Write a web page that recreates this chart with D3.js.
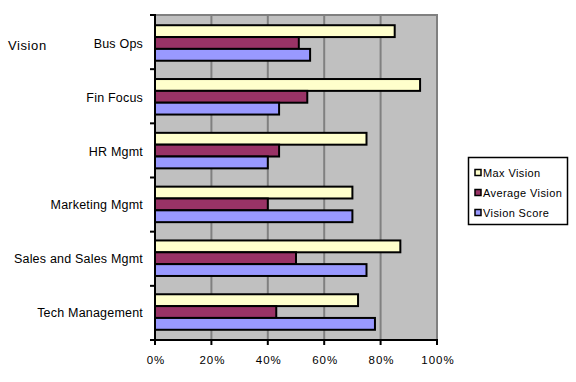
<!DOCTYPE html>
<html><head><meta charset="utf-8">
<script src="https://cdn.jsdelivr.net/npm/d3@7"></script>
<style>body{margin:0;background:#fff}svg{display:block}</style>
</head><body>
<svg id="c" width="576" height="382"></svg>
<script>
const categories = ["Bus Ops","Fin Focus","HR Mgmt","Marketing Mgmt","Sales and Sales Mgmt","Tech Management"];
const seriesNames = ["Max Vision","Average Vision","Vision Score"];
const maxVision = [0.85,0.94,0.75,0.70,0.87,0.72];
const avgVision = [0.51,0.54,0.44,0.40,0.50,0.43];
const visionScore = [0.55,0.44,0.40,0.70,0.75,0.78];
const colors = ["#FFFFCC","#993366","#9999FF"];
const xTicks = [0,0.2,0.4,0.6,0.8,1.0];

const series = [maxVision, avgVision, visionScore];
const svg = d3.select("#c");
const L=155, R=437, T=15, B=340;
const font = "Liberation Sans, Arial, sans-serif";

const x = d3.scaleLinear().domain([0,1]).range([L,R]);
const y = d3.scaleBand().domain(categories).range([T,B]).paddingInner(0.34).paddingOuter(0.19);
const ys = d3.scaleBand().domain(seriesNames).range([0,y.bandwidth()]);

svg.append("rect").attr("x",L).attr("y",T).attr("width",R-L).attr("height",B-T).attr("fill","#C0C0C0");
svg.append("g").selectAll("line").data(xTicks.slice(1)).join("line")
  .attr("x1",d=>x(d)).attr("x2",d=>x(d)).attr("y1",T).attr("y2",B)
  .attr("stroke","#808080").attr("stroke-width",2);
svg.append("line").attr("x1",L).attr("x2",R+1).attr("y1",T).attr("y2",T).attr("stroke","#808080").attr("stroke-width",2);

seriesNames.forEach((s,si)=>{
  svg.append("g").selectAll("rect").data(series[si]).join("rect")
    .attr("x",x(0)).attr("y",(d,i)=>y(categories[i])+ys(s))
    .attr("width",d=>x(d)-x(0)).attr("height",ys.bandwidth())
    .attr("fill",colors[si]).attr("stroke","#000").attr("stroke-width",2);
});

// y axis
const yAx = svg.append("g");
yAx.append("line").attr("x1",L).attr("x2",L).attr("y1",T-1).attr("y2",B).attr("stroke","#000").attr("stroke-width",2);
const yTickPos = categories.map((c,i)=>T+i*(B-T)/categories.length).concat([B]);
yAx.selectAll(".t").data(yTickPos).join("line").attr("class","t")
  .attr("x1",L-5).attr("x2",L).attr("y1",d=>d).attr("y2",d=>d).attr("stroke","#000").attr("stroke-width",2);
yAx.selectAll("text").data(categories).join("text")
  .attr("x",143).attr("y",d=>y(d)+y.bandwidth()/2+5).attr("text-anchor","end")
  .attr("font-family",font).attr("font-size",12.5).attr("letter-spacing","0.2").attr("fill","#000").text(d=>d);

// x axis
const xAx = svg.append("g");
xAx.append("line").attr("x1",L-1).attr("x2",R+1).attr("y1",B).attr("y2",B).attr("stroke","#000").attr("stroke-width",2);
xAx.selectAll(".t").data(xTicks).join("line").attr("class","t")
  .attr("x1",d=>x(d)).attr("x2",d=>x(d)).attr("y1",B).attr("y2",B+5).attr("stroke","#000").attr("stroke-width",2);
xAx.selectAll("text").data(xTicks).join("text")
  .attr("x",d=>x(d)+1).attr("y",364).attr("text-anchor","middle")
  .attr("font-family",font).attr("font-size",11.5).attr("letter-spacing","1").attr("fill","#000")
  .text(d=>d3.format(".0%")(d));

svg.append("text").attr("x",8).attr("y",50).attr("font-family",font).attr("font-size",13).attr("letter-spacing","0.6").attr("fill","#000").text("Vision");

// legend
const lg = svg.append("g");
lg.append("rect").attr("x",468.5).attr("y",157.5).attr("width",99).attr("height",67).attr("fill","#fff").attr("stroke","#000").attr("stroke-width",1.5);
const ly = [173,193,213];
seriesNames.forEach((s,i)=>{
  lg.append("rect").attr("x",475).attr("y",ly[i]-3.5).attr("width",6).attr("height",6).attr("fill",colors[i]).attr("stroke","#000").attr("stroke-width",1.5);
  lg.append("text").attr("x",483).attr("y",ly[i]+4).attr("font-family",font).attr("font-size",11).attr("letter-spacing","0.4").attr("fill","#000").text(s);
});
</script>
</body></html>
